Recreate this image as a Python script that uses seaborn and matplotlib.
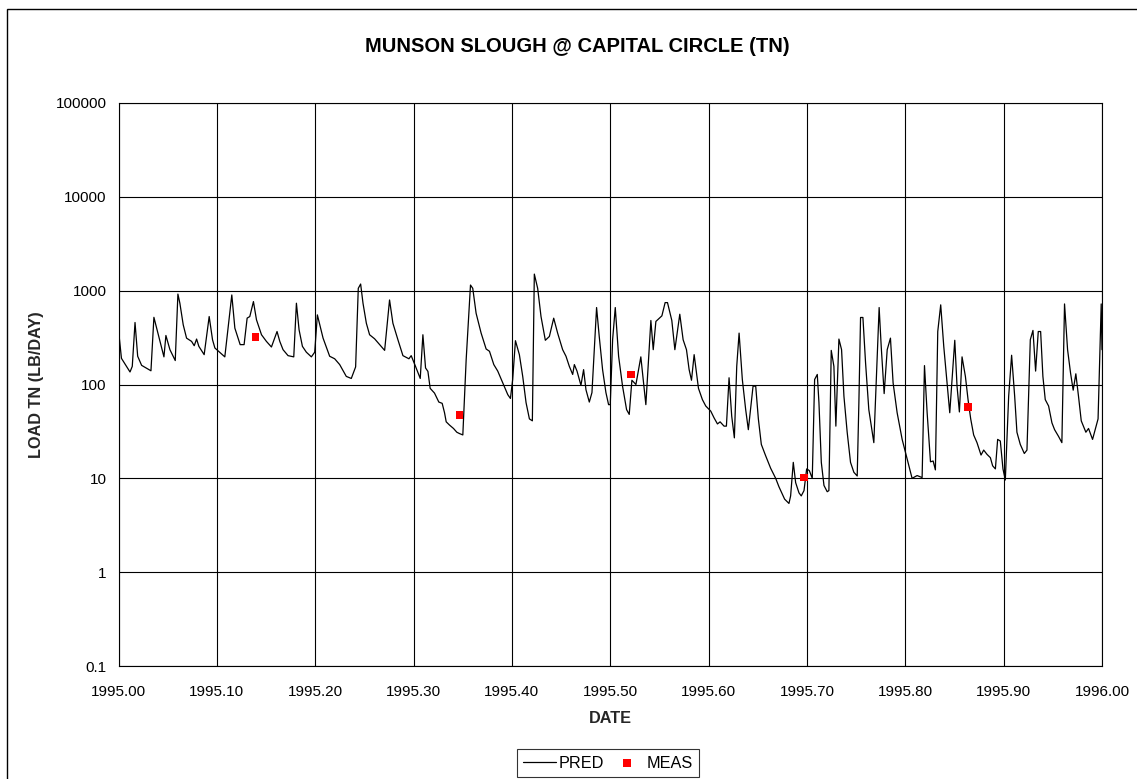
import numpy as np
import pandas as pd
import matplotlib
matplotlib.use("Agg")
import matplotlib.pyplot as plt
from matplotlib.patches import Rectangle
from matplotlib.ticker import FixedLocator, FixedFormatter
import seaborn as sns

# ---------------- data ----------------
pred_date = [
    1995.000, 1995.003, 1995.0117, 1995.0140, 1995.0168, 1995.0195, 1995.0235, 1995.0330,
    1995.0360, 1995.0462, 1995.0482, 1995.0523, 1995.0577, 1995.0604, 1995.0624, 1995.0658,
    1995.0692, 1995.0743, 1995.0770, 1995.0794, 1995.0817, 1995.0871, 1995.0922, 1995.0956,
    1995.0980, 1995.1030, 1995.1081, 1995.1152, 1995.1183, 1995.1237, 1995.1277, 1995.1308,
    1995.1335, 1995.1372, 1995.1403, 1995.1454, 1995.1504, 1995.1555, 1995.1612, 1995.1640,
    1995.1673, 1995.1724, 1995.1782, 1995.1809, 1995.1836, 1995.1870, 1995.1910, 1995.1961,
    1995.1995, 1995.2022, 1995.2080, 1995.2147, 1995.2198, 1995.2249, 1995.2316, 1995.2367,
    1995.2411, 1995.2438, 1995.2462, 1995.2486, 1995.2520, 1995.2553, 1995.2604, 1995.2655,
    1995.2706, 1995.2756, 1995.2790, 1995.2841, 1995.2892, 1995.2953, 1995.2976, 1995.3020,
    1995.3068, 1995.3095, 1995.3122, 1995.3146, 1995.3169, 1995.3213, 1995.3257, 1995.3291,
    1995.3315, 1995.3332, 1995.3365, 1995.3406, 1995.3440, 1995.3467, 1995.3501, 1995.3535,
    1995.3579, 1995.3602, 1995.3636, 1995.3687, 1995.3738, 1995.3772, 1995.3816, 1995.3856,
    1995.3907, 1995.3958, 1995.3985, 1995.4008, 1995.4036, 1995.4076, 1995.4110, 1995.4144,
    1995.4178, 1995.4208, 1995.4228, 1995.4262, 1995.4296, 1995.4340, 1995.4381, 1995.4425,
    1995.4465, 1995.4516, 1995.4550, 1995.4584, 1995.4618, 1995.4635, 1995.4662, 1995.4702,
    1995.4729, 1995.4753, 1995.4787, 1995.4814, 1995.4861, 1995.4888, 1995.4922, 1995.4956,
    1995.4983, 1995.5000, 1995.5024, 1995.5051, 1995.5085, 1995.5125, 1995.5166, 1995.5193,
    1995.5220, 1995.5261, 1995.5311, 1995.5362, 1995.5413, 1995.5437, 1995.5464, 1995.5525,
    1995.5558, 1995.5582, 1995.5626, 1995.5657, 1995.5707, 1995.5741, 1995.5775, 1995.5802,
    1995.5826, 1995.5853, 1995.5897, 1995.5937, 1995.5971, 1995.6022, 1995.6056, 1995.6090,
    1995.6117, 1995.6157, 1995.6181, 1995.6208, 1995.6235, 1995.6262, 1995.6286, 1995.6310,
    1995.6343, 1995.6377, 1995.6404, 1995.6452, 1995.6479, 1995.6506, 1995.6536, 1995.6580,
    1995.6631, 1995.6682, 1995.6716, 1995.6733, 1995.6773, 1995.6817, 1995.6834, 1995.6861,
    1995.6885, 1995.6919, 1995.6942, 1995.6970, 1995.6997, 1995.7024, 1995.7054, 1995.7078,
    1995.7105, 1995.7122, 1995.7146, 1995.7173, 1995.7206, 1995.7223, 1995.7247, 1995.7274,
    1995.7294, 1995.7325, 1995.7352, 1995.7376, 1995.7409, 1995.7443, 1995.7477, 1995.7511,
    1995.7528, 1995.7545, 1995.7569, 1995.7596, 1995.7629, 1995.7680, 1995.7734, 1995.7755,
    1995.7785, 1995.7816, 1995.7849, 1995.7876, 1995.7917, 1995.7968, 1995.8019, 1995.8069,
    1995.8120, 1995.8171, 1995.8195, 1995.8222, 1995.8256, 1995.8283, 1995.8306, 1995.8330,
    1995.8360, 1995.8391, 1995.8425, 1995.8452, 1995.8475, 1995.8503, 1995.8526, 1995.8550,
    1995.8577, 1995.8611, 1995.8638, 1995.8665, 1995.8695, 1995.8729, 1995.8770, 1995.8797,
    1995.8831, 1995.8865, 1995.8888, 1995.8916, 1995.8939, 1995.8966, 1995.8993, 1995.9017,
    1995.9051, 1995.9081, 1995.9112, 1995.9135, 1995.9169, 1995.9210, 1995.9237, 1995.9271,
    1995.9298, 1995.9325, 1995.9352, 1995.9376, 1995.9399, 1995.9423, 1995.9457, 1995.9491,
    1995.9518, 1995.9558, 1995.9592, 1995.9619, 1995.9650, 1995.9680, 1995.9707, 1995.9734,
    1995.9761, 1995.9789, 1995.9836, 1995.9863, 1995.9904, 1995.9931, 1995.9960, 1995.9978,
    1995.9992, 1996.0000,
]
pred_load = [
    380, 190, 136, 156, 458, 200, 160, 140,
    520, 197, 333, 235, 180, 920, 735, 433,
    312, 288, 259, 305, 255, 208, 530, 300,
    245, 220, 197, 900, 399, 266, 266, 510,
    530, 765, 489, 339, 288, 251, 367, 288,
    235, 203, 197, 735, 383, 255, 221, 197,
    221, 552, 312, 200, 188, 163, 122, 116,
    154, 1059, 1177, 735, 450, 339, 307, 266,
    231, 796, 450, 300, 203, 188, 203, 156,
    116, 339, 150, 138, 91, 81, 65, 63,
    50, 40, 37, 34, 31, 30, 29, 184,
    1148, 1059, 575, 353, 239, 226, 163, 139,
    104, 78, 71, 113, 293, 208, 122, 64,
    43, 41, 1502, 1059, 530, 296, 325, 509,
    353, 235, 200, 156, 128, 163, 139, 98,
    144, 88, 65, 82, 661, 325, 144, 82,
    61, 61, 300, 661, 200, 96, 54, 48,
    111, 100, 197, 61, 481, 235, 470, 539,
    746, 746, 481, 235, 561, 300, 235, 144,
    111, 208, 91, 69, 59, 52, 44, 38,
    40, 36, 36, 118, 46, 27, 156, 353,
    113, 54, 33, 96, 96, 43, 23, 17.4,
    12.8, 10, 8.1, 7.4, 6.0, 5.4, 6.5, 14.8,
    9.0, 7.0, 6.5, 7.4, 12.6, 12.1, 10, 113,
    128, 64, 14.8, 8.4, 7.2, 7.4, 231, 156,
    36, 305, 235, 75, 31, 14.8, 11.6, 10.6,
    64, 518, 518, 170, 54, 24, 661, 255,
    80, 235, 312, 104, 50, 26, 16, 10,
    10.7, 10.2, 159, 50, 15, 15.3, 12.3, 367,
    706, 255, 104, 50, 113, 296, 96, 51,
    197, 122, 69, 43, 29, 24, 17.7, 20,
    18, 16.6, 13.6, 12.6, 26, 25, 12.6, 9.6,
    75, 205, 75, 31, 23, 18.4, 20, 300,
    377, 139, 367, 367, 122, 69, 59, 39,
    33, 28, 24, 722, 235, 133, 87, 130,
    75, 41, 31, 34, 26, 33, 43, 200,
    722, 235,
]

meas_date = [1995.1393, 1995.3467, 1995.5213, 1995.6970, 1995.8638]
meas_load = [320, 47, 128, 10.2, 58]

x_ticks = [1995.0, 1995.1, 1995.2, 1995.3, 1995.4, 1995.5, 1995.6, 1995.7, 1995.8, 1995.9, 1996.0]
x_tick_labels = ["1995.00", "1995.10", "1995.20", "1995.30", "1995.40", "1995.50",
                 "1995.60", "1995.70", "1995.80", "1995.90", "1996.00"]
y_ticks = [0.1, 1, 10, 100, 1000, 10000, 100000]
y_tick_labels = ["0.1", "1", "10", "100", "1000", "10000", "100000"]

title = "MUNSON SLOUGH @ CAPITAL CIRCLE (TN)"
x_label = "DATE"
y_label = "LOAD TN (LB/DAY)"

# ---------------- styling ----------------
sns.set_theme(style="white")
plt.rcParams["font.family"] = ["Liberation Sans", "DejaVu Sans"]
plt.rcParams["axes.edgecolor"] = "black"
plt.rcParams["text.color"] = "black"
plt.rcParams["xtick.color"] = "black"
plt.rcParams["ytick.color"] = "black"

W, H = 1137, 779
fig = plt.figure(figsize=(W / 100, H / 100), dpi=100)
fig.patch.set_facecolor("white")

left, right, top, bottom = 118.5, 1102, 103, 666
ax = fig.add_axes([left / W, 1 - bottom / H, (right - left) / W, (bottom - top) / H])

pred_df = pd.DataFrame({"date": pred_date, "load": pred_load})
meas_df = pd.DataFrame({"date": meas_date, "load": meas_load})

sns.lineplot(data=pred_df, x="date", y="load", ax=ax, color="black", linewidth=0.9,
             label="PRED", sort=False, estimator=None, zorder=3)
sns.scatterplot(data=meas_df, x="date", y="load", ax=ax, color="#ff0000", marker="s",
                s=30, edgecolor="none", linewidth=0, label="MEAS", zorder=4)

ax.set_yscale("log")
ax.set_xlim(1995.0, 1996.0)
ax.set_ylim(0.1, 100000)
ax.xaxis.set_major_locator(FixedLocator(x_ticks))
ax.xaxis.set_major_formatter(FixedFormatter(x_tick_labels))
ax.yaxis.set_major_locator(FixedLocator(y_ticks))
ax.yaxis.set_major_formatter(FixedFormatter(y_tick_labels))
ax.yaxis.set_minor_locator(FixedLocator([]))
ax.tick_params(axis="both", which="major", direction="out", width=0.8,
               labelsize=11, colors="black")
ax.tick_params(axis="x", length=4, pad=9.5)
ax.tick_params(axis="y", length=3.6, pad=5)
ax.tick_params(which="minor", length=0)
ax.grid(True, which="major", color="black", linewidth=0.8)
for sp in ax.spines.values():
    sp.set_visible(True)
    sp.set_color("black")
    sp.set_linewidth(0.8)

ax.set_xlabel(x_label, fontsize=11.7, fontweight="bold")
ax.set_ylabel(y_label, fontsize=11.7, fontweight="bold")
ax.xaxis.set_label_coords(0.5, -(711 - bottom) / (bottom - top))
ax.yaxis.set_label_coords(-(left - 44.5) / (right - left), 0.5)

fig.text(577 / W, 1 - 47 / H, title, ha="center", va="center", fontsize=14.5,
         fontweight="bold")

handles, labels = ax.get_legend_handles_labels()
ax.get_legend().remove()
leg = fig.legend(handles, labels, loc="center", bbox_to_anchor=(608 / W, 1 - 763 / H),
                 ncol=2, frameon=True, fancybox=False, shadow=False, fontsize=11.7,
                 handlelength=2.0, handletextpad=0.2, columnspacing=0.42,
                 borderpad=0.38, borderaxespad=0)
leg.get_frame().set_edgecolor("black")
leg.get_frame().set_linewidth(0.8)

# outer chart border (left and top edges visible, rest cropped)
fig.patches.append(Rectangle((7 / W, -0.05), 1.2, 1 - 9 / H + 0.05, transform=fig.transFigure,
                             fill=False, edgecolor="black", linewidth=1.0))

fig.savefig("out.png", dpi=100, facecolor="white")
